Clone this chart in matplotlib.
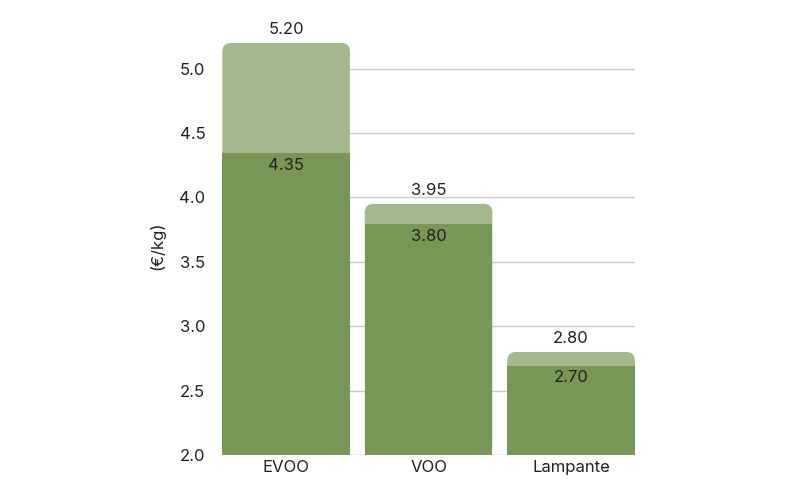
import matplotlib.pyplot as plt
from matplotlib.patches import FancyBboxPatch, Rectangle

plt.rcParams["font.family"] = ["Inter", "DejaVu Sans"]

categories = ["EVOO", "VOO", "Lampante"]
low_values = [4.35, 3.80, 2.70]
high_values = [5.20, 3.95, 2.80]

dark_green = "#789656"
light_green = "#a4b88e"
base = 2.0
width = 0.895

fig = plt.figure(figsize=(8, 5), dpi=100)
ax = fig.add_axes([0.2775, 0.09, 0.5165, 0.837])
ax.set_xlim(-0.45, 2.45)
ax.set_ylim(2.0, 5.25)

for i, (lo, hi) in enumerate(zip(low_values, high_values)):
    left = i - width / 2
    top = FancyBboxPatch((left, base), width, hi - base,
                         boxstyle="round,pad=0,rounding_size=0.06",
                         mutation_aspect=1.1, facecolor=light_green,
                         edgecolor="none", zorder=2)
    ax.add_patch(top)
    ax.add_patch(Rectangle((left, base), width, lo - base, facecolor=dark_green,
                           edgecolor="none", zorder=3))
    ax.axhline(lo, xmin=(left + 0.45) / 2.9, xmax=(left + width + 0.45) / 2.9,
               color="white", lw=0.8, alpha=0.3, zorder=4)
    ax.annotate(f"{hi:.2f}", (i, hi), xytext=(0, 4), textcoords="offset points",
                ha="center", va="bottom", fontsize=12, color="#222222")
    ax.annotate(f"{lo:.2f}", (i, lo), xytext=(0, -4), textcoords="offset points",
                ha="center", va="top", fontsize=12, color="#222222")

ax.set_yticks([2.0, 2.5, 3.0, 3.5, 4.0, 4.5, 5.0])
ax.set_yticklabels([f"{v:.1f}" for v in ax.get_yticks()])
ax.set_xticks(range(len(categories)))
ax.set_xticklabels(categories)
ax.tick_params(length=0, labelsize=12, colors="#222222")
ax.tick_params(axis="y", pad=12)
ax.grid(axis="y", color="#c8c8c8", lw=1, zorder=0)
ax.set_axisbelow(True)
ax.set_ylabel("(€/kg)", fontsize=12, color="#222222", labelpad=10)
for s in ax.spines.values():
    s.set_visible(False)

fig.savefig("out.png", dpi=100)
